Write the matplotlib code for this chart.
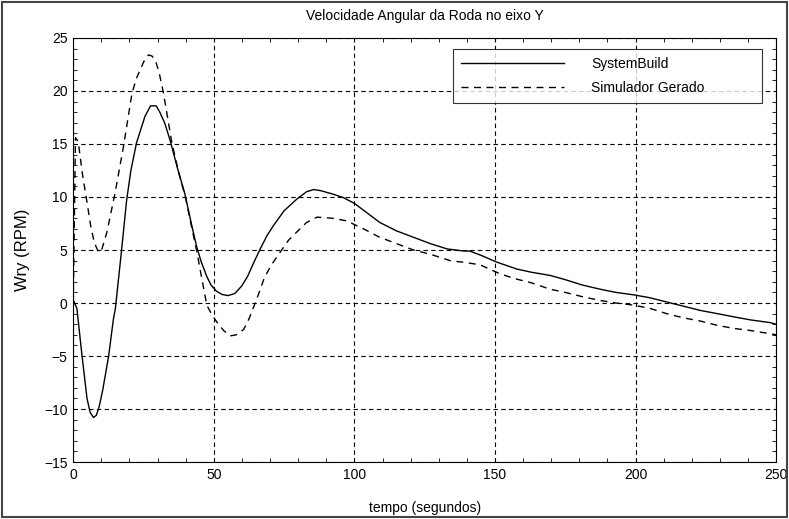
import numpy as np
import matplotlib
matplotlib.use("Agg")
import matplotlib.pyplot as plt
from matplotlib.ticker import MultipleLocator
from matplotlib.patches import Rectangle

plt.rcParams["font.family"] = ["Liberation Sans", "DejaVu Sans"]

TITLE  = "Velocidade Angular da Roda no eixo Y"
XLABEL = "tempo (segundos)"
YLABEL = "Wry (RPM)"
LABELS = ["SystemBuild", "Simulador Gerado"]

# SystemBuild (solid)
sb_t = [0, 1.3, 3.1, 4.9, 6, 7.2, 8.2, 9.2, 10.5, 12.6, 14.3, 15, 17, 19,
        20.5, 22.5, 25.5, 27.5, 29.5, 30.8, 32.5, 34.4, 37, 39.7, 42, 43.9,
        45.5, 47.5, 49, 51, 53, 55.1, 57.5, 59.9, 62, 64, 66.5, 69, 71.2, 75,
        79.5, 83, 85.5, 88, 92, 96, 100, 104.5, 109, 115, 121, 127, 133, 139,
        141, 145, 150.7, 157.8, 163, 169.6, 175, 181, 187.4, 193, 199.3, 205,
        211, 217, 223, 229, 234.8, 241, 247.9, 250]
sb_y = [0.3, -0.5, -4.9, -9.0, -10.3, -10.8, -10.6, -9.8, -8.2, -5.0, -1.5,
        -0.5, 4.5, 9.7, 12.5, 15.1, 17.6, 18.6, 18.6, 18.0, 17.0, 15.4, 12.8,
        10.3, 7.5, 5.3, 3.9, 2.5, 1.7, 1.1, 0.8, 0.7, 0.9, 1.6, 2.5, 3.7, 5.1,
        6.4, 7.3, 8.7, 9.8, 10.5, 10.7, 10.6, 10.3, 9.95, 9.4, 8.5, 7.6, 6.8,
        6.2, 5.6, 5.1, 4.9, 4.9, 4.5, 3.85, 3.2, 2.9, 2.6, 2.2, 1.7, 1.3, 1.0,
        0.77, 0.5, 0.1, -0.3, -0.7, -1.0, -1.3, -1.6, -1.85, -2.0]

# Simulador Gerado (dashed)
sg_t = [0, 0.8, 1.8, 3.2, 4.9, 6.2, 7.5, 9, 10, 12, 14.9, 17.9, 20.9, 22.5,
        23.8, 25.5, 26.8, 28, 29.2, 30.5, 32.1, 33.5, 35.1, 37.5, 39.8, 42,
        44, 45.8, 47.5, 49.3, 51.1, 53.5, 55.8, 58, 60.6, 62.5, 65.3, 68, 70.5,
        73.6, 76.5, 79.5, 83, 86.7, 92, 97.3, 100, 103.2, 109, 115, 121, 127,
        134, 140, 144.7, 151.8, 157, 163, 169.6, 175, 181, 187.4, 193, 199.3,
        205, 211, 217, 223, 228.9, 235, 241, 247.9, 250]
sg_y = [0, 15.6, 15.2, 12.3, 9.5, 7.3, 5.7, 4.8, 4.9, 6.7, 10.4, 14.8, 19.8,
        21.2, 22.0, 23.0, 23.4, 23.3, 22.9, 21.8, 19.8, 17.6, 15.1, 12.3, 10.1,
        7.3, 4.8, 2.2, -0.2, -1.1, -1.8, -2.6, -3.1, -3.0, -2.5, -1.5, 0.4,
        2.4, 3.6, 4.8, 5.9, 6.7, 7.6, 8.1, 8.0, 7.75, 7.4, 7.0, 6.2, 5.6, 5.0,
        4.6, 4.0, 3.8, 3.6, 2.75, 2.3, 1.9, 1.3, 1.0, 0.6, 0.24, 0.0, -0.2,
        -0.5, -1.0, -1.4, -1.7, -2.1, -2.4, -2.6, -2.9, -3.0]

fig = plt.figure(figsize=(7.89, 5.19), dpi=100)
ax = fig.add_axes([0.0928, 0.1098, 0.891, 0.817])

ax.plot(sb_t, sb_y, "-", color="black", lw=1.0, label=LABELS[0])
ax.plot(sg_t, sg_y, color="black", lw=1.0, dashes=(5, 4), label=LABELS[1])

ax.set_xlim(0, 250)
ax.set_ylim(-15, 25)
ax.xaxis.set_major_locator(MultipleLocator(50))
ax.yaxis.set_major_locator(MultipleLocator(5))
ax.xaxis.set_minor_locator(MultipleLocator(10))
ax.yaxis.set_minor_locator(MultipleLocator(1))
ax.tick_params(which="both", direction="in", top=True, right=True,
               labelsize=10, pad=4)
ax.tick_params(which="major", length=0)
ax.tick_params(which="minor", length=3, width=0.6)
ax.grid(True, which="major", color="black", ls=(0, (4, 3)), lw=0.8)
for s in ax.spines.values():
    s.set_linewidth(0.8)

ax.set_title(TITLE, fontsize=10, pad=13)
ax.set_xlabel(XLABEL, fontsize=10, labelpad=14)
ax.set_ylabel(YLABEL, fontsize=12, labelpad=10)

leg = ax.legend(loc="upper left", bbox_to_anchor=(0.5405, 0.849, 0.4395, 0.125),
                mode="expand", fontsize=10, handlelength=7.4, handletextpad=2.0,
                fancybox=False, frameon=True, borderaxespad=0,
                labelspacing=0.75, borderpad=0.55)
leg.get_frame().set_edgecolor("black")
leg.get_frame().set_linewidth(0.8)

fig.patches.append(Rectangle((0.002, 0.003), 0.996, 0.994, transform=fig.transFigure,
                             fill=False, edgecolor="#444444", lw=1.5))

fig.savefig("out.png", dpi=100)
